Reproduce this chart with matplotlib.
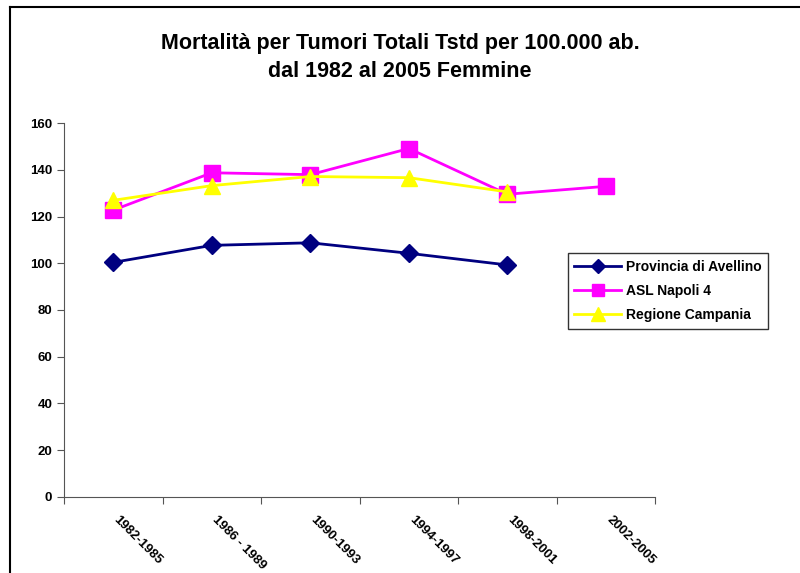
import matplotlib.pyplot as plt
from matplotlib.lines import Line2D
from matplotlib.transforms import ScaledTranslation

plt.rcParams["font.family"] = ["Liberation Sans", "DejaVu Sans"]
plt.rcParams["font.weight"] = "bold"

periods = ["1982-1985", "1986 - 1989", "1990-1993", "1994-1997", "1998-2001", "2002-2005"]
avellino = [100.4, 107.7, 108.8, 104.3, 99.3]
napoli4 = [122.8, 138.8, 138.0, 149.2, 129.6, 133.0]
campania = [127.0, 133.3, 137.2, 136.7, 130.6]

series = [
    ("Provincia di Avellino", avellino, "#000080", "D", 9.5),
    ("ASL Napoli 4", napoli4, "#FF00FF", "s", 11),
    ("Regione Campania", campania, "#FFFF00", "^", 12),
]

fig = plt.figure(figsize=(8, 5.73), dpi=100)
ax = fig.add_axes([0.08, 0.1332, 0.739, 0.6516])

for label, values, color, marker, size in series:
    xs = [i + 0.5 for i in range(len(values))]
    ax.plot(xs, values, color=color, marker=marker, markersize=size,
            linewidth=2, label=label)

ax.set_xlim(0, len(periods))
ax.set_ylim(0, 160)
ax.set_yticks(range(0, 161, 20))
ax.set_xticks(range(len(periods) + 1))
ax.set_xticklabels([])
ax.set_xticks([i + 0.5 for i in range(len(periods))], minor=True)
ax.set_xticklabels(periods, minor=True, rotation=-45, ha="left", va="top",
                   rotation_mode="anchor", fontsize=9.5, fontweight="bold")
ax.tick_params(axis="x", which="minor", length=0, pad=12)
ax.tick_params(axis="both", which="major", direction="out", length=5,
               width=0.8, colors="#555555", labelcolor="black")
ax.tick_params(axis="y", labelsize=9.5)
for lbl in ax.get_yticklabels():
    lbl.set_fontweight("bold")
shift = ScaledTranslation(0.065, 0, fig.dpi_scale_trans)
for lbl in ax.get_xticklabels(minor=True):
    lbl.set_transform(lbl.get_transform() + shift)

ax.spines["top"].set_visible(False)
ax.spines["right"].set_visible(False)
ax.spines["left"].set_color("#555555")
ax.spines["bottom"].set_color("#555555")

fig.suptitle("Mortalità per Tumori Totali Tstd per 100.000 ab.\ndal 1982 al 2005 Femmine",
             x=0.5, y=0.943, fontsize=15.5, fontweight="bold", linespacing=1.45)

leg = ax.legend(loc="upper left", bbox_to_anchor=(0.71, 0.558),
                bbox_transform=fig.transFigure, fontsize=10, frameon=True,
                fancybox=False, borderpad=0.45, handlelength=3.4,
                handletextpad=0.3, labelspacing=0.75, borderaxespad=0,
                markerscale=0.8)
leg.get_frame().set_edgecolor("black")
leg.get_frame().set_linewidth(1)
for t in leg.get_texts():
    t.set_fontweight("bold")

# outer frame of the chart (top and left edges only)
fig.add_artist(Line2D([0.0125, 1.0], [0.988, 0.988], transform=fig.transFigure,
                      color="black", linewidth=1.5))
fig.add_artist(Line2D([0.0125, 0.0125], [0.0, 0.988], transform=fig.transFigure,
                      color="black", linewidth=1.5))

fig.savefig("out.png", dpi=100)
